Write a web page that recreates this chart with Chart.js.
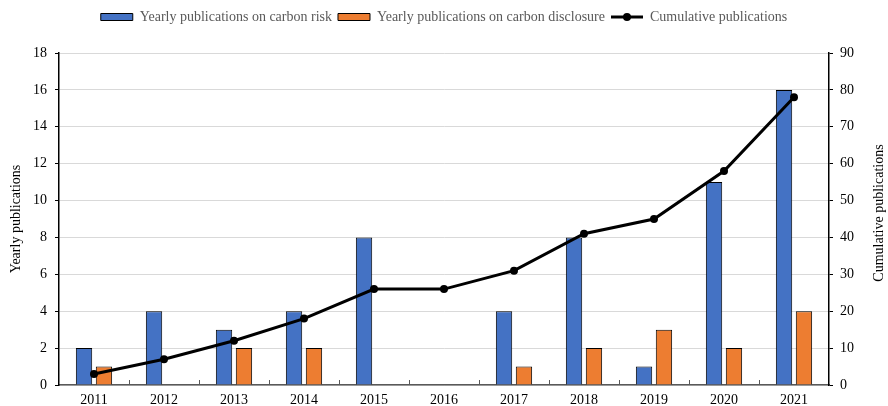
<!DOCTYPE html>
<html>
<head>
<meta charset="utf-8">
<script src="https://cdn.jsdelivr.net/npm/chart.js@4.4.1/dist/chart.umd.min.js"></script>
<style>
  html, body { margin: 0; padding: 0; background: #fff; }
</style>
</head>
<body>
<canvas id="pubChart" width="888" height="406"></canvas>
<script>
const years = ['2011', '2012', '2013', '2014', '2015', '2016', '2017', '2018', '2019', '2020', '2021'];
const carbonRisk = [2, 4, 3, 4, 8, 0, 4, 8, 1, 11, 16];
const carbonDisclosure = [1, 0, 2, 2, 0, 0, 1, 2, 3, 2, 4];
const cumulative = [3, 7, 12, 18, 26, 26, 31, 41, 45, 58, 78];
const leftAxis = { max: 18, step: 2 };
const rightAxis = { max: 90, step: 10 };
const rightTitleText = 'Cumulative publications';

const serif = "'Liberation Serif', 'Times New Roman', serif";
Chart.defaults.font.family = serif;
Chart.defaults.color = '#000';

// little legend icon: line with a dot
const lineIcon = document.createElement('canvas');
lineIcon.width = 32;
lineIcon.height = 12;
(function () {
  const c = lineIcon.getContext('2d');
  c.strokeStyle = '#000';
  c.lineWidth = 3;
  c.beginPath(); c.moveTo(0, 6); c.lineTo(32, 6); c.stroke();
  c.fillStyle = '#000';
  c.beginPath(); c.arc(16, 6, 4, 0, Math.PI * 2); c.fill();
})();

// push the plot down below the legend
const legendGap = {
  id: 'legendGap',
  beforeInit(chart) {
    const fit = chart.legend.fit;
    chart.legend.fit = function () {
      fit.call(this);
      this.height += 19;
    };
  }
};

// small inward tick marks between the years, and the right axis title
const extras = {
  id: 'extras',
  afterDraw(chart) {
    const ctx = chart.ctx;
    const x = chart.scales.x;
    const step = x.width / years.length;
    ctx.save();
    ctx.strokeStyle = '#595959';
    ctx.lineWidth = 1;
    ctx.beginPath();
    for (let i = 1; i < years.length; i++) {
      const px = Math.round(x.left + i * step) + 0.5;
      ctx.moveTo(px, x.top);
      ctx.lineTo(px, x.top - 5);
    }
    ctx.stroke();

    const r = chart.scales.y1;
    ctx.translate(r.right - 9, (r.top + r.bottom) / 2 - 6);
    ctx.rotate(-Math.PI / 2);
    ctx.font = '14px ' + serif;
    ctx.fillStyle = '#000';
    ctx.textAlign = 'center';
    ctx.textBaseline = 'middle';
    ctx.fillText(rightTitleText, 0, 0);
    ctx.restore();
  }
};

new Chart(document.getElementById('pubChart'), {
  type: 'bar',
  data: {
    labels: years,
    datasets: [{
      label: 'Yearly publications on carbon risk',
      data: carbonRisk,
      backgroundColor: '#4472C4',
      borderColor: '#000',
      borderWidth: 1,
      categoryPercentage: 0.57,
      barPercentage: 0.82,
      yAxisID: 'y',
      order: 1
    }, {
      label: 'Yearly publications on carbon disclosure',
      data: carbonDisclosure,
      backgroundColor: '#ED7D31',
      borderColor: '#000',
      borderWidth: 1,
      categoryPercentage: 0.57,
      barPercentage: 0.82,
      yAxisID: 'y',
      order: 1
    }, {
      type: 'line',
      label: 'Cumulative publications',
      data: cumulative,
      borderColor: '#000',
      backgroundColor: '#000',
      borderWidth: 3,
      pointRadius: 4,
      pointBackgroundColor: '#000',
      pointBorderWidth: 0,
      tension: 0,
      yAxisID: 'y1',
      order: 0
    }]
  },
  options: {
    responsive: false,
    animation: false,
    layout: { padding: { top: 4, left: 0, right: 0, bottom: 0 } },
    plugins: {
      tooltip: { enabled: false },
      legend: {
        position: 'top',
        labels: {
          color: '#595959',
          font: { size: 14 },
          usePointStyle: true,
          pointStyleWidth: 32,
          boxHeight: 7,
          padding: 6,
          sort: (a, b) => a.datasetIndex - b.datasetIndex,
          generateLabels(chart) {
            const items = Chart.defaults.plugins.legend.labels.generateLabels(chart);
            items.forEach(it => {
              it.pointStyle = it.datasetIndex === 2 ? lineIcon : 'rect';
              it.lineWidth = 1;
              it.strokeStyle = '#000';
            });
            return items;
          }
        }
      }
    },
    scales: {
      x: {
        grid: { display: false, drawTicks: false },
        border: { color: '#595959', width: 1.5 },
        ticks: { font: { size: 14 }, padding: 7, color: '#000' },
        afterFit(s) { s.height = 21; }
      },
      y: {
        position: 'left',
        min: 0,
        max: leftAxis.max,
        ticks: { stepSize: leftAxis.step, font: { size: 14 }, padding: 8, color: '#000' },
        grid: { color: '#d9d9d9', lineWidth: 1, tickColor: '#000', tickLength: 4 },
        border: { color: '#000', width: 1.5 },
        title: { display: true, text: 'Yearly publications', font: { size: 14 }, padding: { top: 8, bottom: 0 } },
        afterFit(s) { s.width = 59; }
      },
      y1: {
        position: 'right',
        min: 0,
        max: rightAxis.max,
        ticks: { stepSize: rightAxis.step, font: { size: 14 }, padding: 7, color: '#000' },
        grid: { drawOnChartArea: false, tickColor: '#000', tickLength: 4 },
        border: { color: '#000', width: 1.5 },
        afterFit(s) { s.width = 59; }
      }
    }
  },
  plugins: [legendGap, extras]
});
</script>
</body>
</html>
